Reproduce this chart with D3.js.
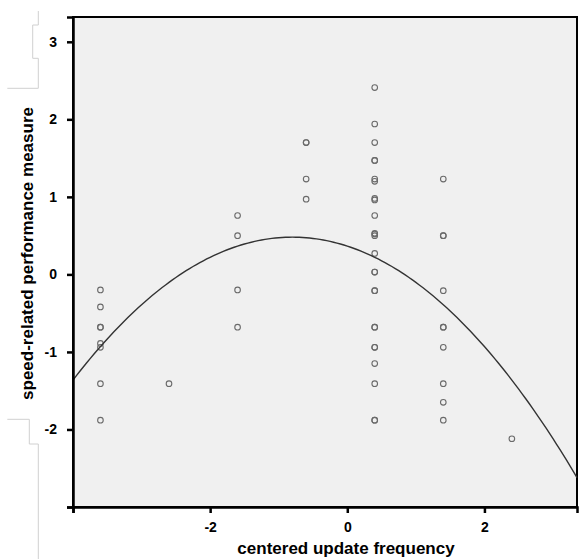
<!DOCTYPE html>
<html>
<head>
<script src="https://d3js.org/d3.v7.min.js" charset="utf-8"></script>
<style>
    body { margin: 0; background: #fff; }
    text { font-family: "Liberation Sans", Arial, sans-serif; font-weight: bold; }
</style>
</head>
<body>
<script>
    // scatter points: centered update frequency (x) vs speed-related performance (y)
    var xValues = [
        -3.6, -3.6, -3.6, -3.6, -3.6, -3.6, -3.6, -3.6,
        -2.6,
        -1.6, -1.6, -1.6, -1.6,
        -0.6, -0.6, -0.6, -0.6,
        0.4, 0.4, 0.4, 0.4, 0.4, 0.4, 0.4, 0.4, 0.4, 0.4, 0.4, 0.4, 0.4, 0.4, 0.4,
        0.4, 0.4, 0.4, 0.4, 0.4, 0.4, 0.4, 0.4, 0.4, 0.4, 0.4,
        1.4, 1.4, 1.4, 1.4, 1.4, 1.4, 1.4, 1.4, 1.4, 1.4,
        2.4
    ];
    var yValues = [
        -0.20, -0.42, -0.68, -0.68, -0.89, -0.94, -1.41, -1.88,
        -1.41,
        0.76, 0.50, -0.20, -0.68,
        1.70, 1.70, 1.23, 0.97,
        2.41, 1.94, 1.70, 1.47, 1.47, 1.20, 1.23, 0.98, 0.96, 0.76, 0.52, 0.50, 0.53, 0.27, 0.03,
        0.03, -0.21, -0.21, -0.68, -0.68, -0.94, -0.94, -1.15, -1.41, -1.88, -1.88,
        1.23, 0.50, 0.50, -0.21, -0.68, -0.68, -0.94, -1.41, -1.65, -1.88,
        -2.12
    ];

    // quadratic fit line: y = c0 + c1*x + c2*x^2
    var fitCoefficients = [0.365, -0.288, -0.18];

    var xTicks = [-4, -2, 0, 2];
    var yTicks = [-3, -2, -1, 0, 1, 2, 3];

    var w = 581, h = 559;
    var pLeft = 73, pRight = 577, pTop = 17, pBottom = 507;

    var svg = d3.select("body").append("svg")
        .attr("width", w)
        .attr("height", h);

    var x = d3.scaleLinear().domain([-4, 3.35]).range([pLeft, pRight]);
    var y = d3.scaleLinear().domain([-3, 3.32]).range([pBottom, pTop]);

    // stray gray guide lines at the far left
    var guides = [
        [[38.3, 11], [38.3, 25], [32.7, 25], [32.7, 58.3], [38.3, 58.3], [38.3, 88.3], [7.3, 88.3]],
        [[7.3, 419.3], [29.3, 419.3], [29.3, 444], [38.3, 444], [38.3, 559]]
    ];
    svg.selectAll("path.guide")
        .data(guides)
        .enter()
        .append("path")
        .attr("class", "guide")
        .attr("d", d3.line())
        .attr("fill", "none")
        .attr("stroke", "#d0d0d0")
        .attr("stroke-width", 1);

    svg.append("rect")
        .attr("x", pLeft)
        .attr("y", pTop)
        .attr("width", pRight - pLeft)
        .attr("height", pBottom - pTop)
        .attr("fill", "#f0f0f0")
        .attr("stroke", "#000")
        .attr("stroke-width", 2);

    // points
    var pts = xValues.map(function(d, i) { return [d, yValues[i]]; });
    svg.selectAll("circle")
        .data(pts)
        .enter()
        .append("circle")
        .attr("cx", function(d) { return x(d[0]); })
        .attr("cy", function(d) { return y(d[1]); })
        .attr("r", 2.8)
        .attr("fill", "none")
        .attr("stroke", "#6a6a6a")
        .attr("stroke-width", 1.1);

    // fit curve
    var curveX = d3.range(-4, 3.36, 0.05);
    var fit = function(v) {
        return fitCoefficients[0] + fitCoefficients[1] * v + fitCoefficients[2] * v * v;
    };
    svg.append("path")
        .datum(curveX)
        .attr("d", d3.line()
            .x(function(d) { return x(d); })
            .y(function(d) { return y(fit(d)); }))
        .attr("fill", "none")
        .attr("stroke", "#333")
        .attr("stroke-width", 1.4);

    // axes
    var xAxis = d3.axisBottom(x)
        .tickValues(xTicks)
        .tickSize(6)
        .tickPadding(9)
        .tickFormat(function(d) { return d === -4 ? "" : d; });
    var yAxis = d3.axisLeft(y)
        .tickValues(yTicks)
        .tickSize(6)
        .tickPadding(10)
        .tickFormat(function(d) { return d === -3 ? "" : d; });

    var gx = svg.append("g")
        .attr("transform", "translate(0," + pBottom + ")")
        .call(xAxis);
    var gy = svg.append("g")
        .attr("transform", "translate(" + pLeft + ",0)")
        .call(yAxis);

    [gx, gy].forEach(function(g) {
        g.select(".domain").attr("stroke", "#000").attr("stroke-width", 2.5);
        g.selectAll(".tick line").attr("stroke", "#000").attr("stroke-width", 2.5);
        g.selectAll(".tick text")
            .attr("fill", "#000")
            .style("font-size", "14px")
            .style("font-family", "'Liberation Sans', Arial, sans-serif")
            .style("font-weight", "bold");
    });

    svg.append("text")
        .attr("x", 346)
        .attr("y", 554)
        .attr("text-anchor", "middle")
        .style("font-size", "17px")
        .text("centered update frequency");

    svg.append("text")
        .attr("transform", "translate(32.5,253.5) rotate(-90)")
        .attr("text-anchor", "middle")
        .style("font-size", "17px")
        .text("speed-related performance measure");
</script>
</body>
</html>
